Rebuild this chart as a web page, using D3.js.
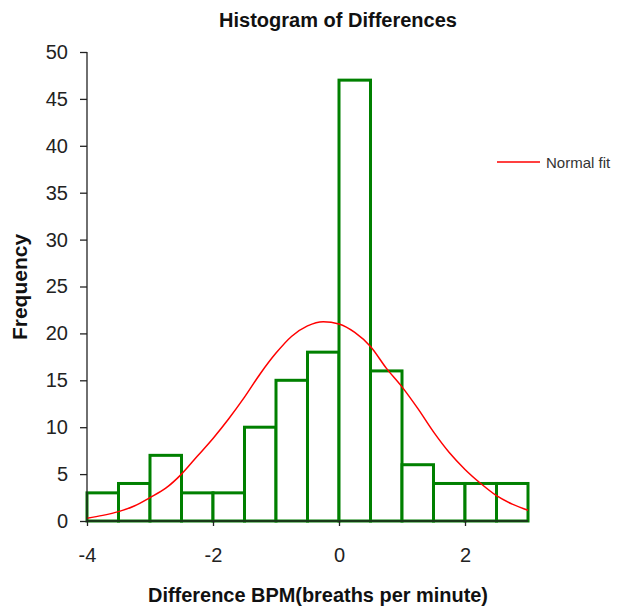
<!DOCTYPE html>
<html>
<head>
<meta charset="utf-8">
<script src="https://cdn.jsdelivr.net/npm/d3@7"></script>
<style>
  body { margin: 0; background: #fff; }
  text { font-family: "Liberation Sans Narrow", "Arial Narrow", "Liberation Sans", Arial, sans-serif; }
</style>
</head>
<body>
<svg id="chart" width="618" height="607"></svg>
<script>
// Histogram bins (left edges, width 0.5) and frequencies
const binStarts = [-4, -3.5, -3, -2.5, -2, -1.5, -1, -0.5, 0, 0.5, 1, 1.5, 2, 2.5];
const binWidth = 0.5;
const frequencies = [3, 4, 7, 3, 3, 10, 15, 18, 47, 16, 6, 4, 4, 4];

// Normal fit curve points
const fitX = [-4, -3.75, -3.5, -3.25, -3, -2.75, -2.5, -2.25, -2, -1.75, -1.5, -1.25, -1, -0.75, -0.5, -0.25, 0, 0.25, 0.5, 0.75, 1, 1.25, 1.5, 1.75, 2, 2.25, 2.5, 2.75, 3];
const fitY = [0.3, 0.6, 1.0, 1.6, 2.5, 3.5, 5.0, 6.9, 8.8, 10.9, 13.2, 15.7, 17.9, 19.7, 20.8, 21.25, 21.0, 20.1, 18.6, 16.3, 14.3, 12.0, 9.5, 7.3, 5.5, 4.0, 2.7, 1.8, 1.15];

const xTicks = [-4, -2, 0, 2];
const yTicks = [0, 5, 10, 15, 20, 25, 30, 35, 40, 45, 50];

const svg = d3.select("#chart");
const x = d3.scaleLinear().domain([-4, 3]).range([87, 528]);
const y = d3.scaleLinear().domain([0, 50]).range([521, 52]);

// Bars
svg.append("g").selectAll("rect")
  .data(binStarts.map((s, i) => ({ s, f: frequencies[i] })))
  .join("rect")
  .attr("x", d => x(d.s))
  .attr("y", d => y(d.f))
  .attr("width", d => x(d.s + binWidth) - x(d.s))
  .attr("height", d => y(0) - y(d.f))
  .attr("fill", "#fff")
  .attr("stroke", "#008000")
  .attr("stroke-width", 3);

// Normal fit curve
const line = d3.line().x(d => x(d[0])).y(d => y(d[1])).curve(d3.curveMonotoneX);
svg.append("path")
  .datum(fitX.map((v, i) => [v, fitY[i]]))
  .attr("d", line)
  .attr("fill", "none")
  .attr("stroke", "#ff0000")
  .attr("stroke-width", 1.5);

// Axes
const yAxis = svg.append("g").attr("transform", `translate(${x(-4)},0)`)
  .call(d3.axisLeft(y).tickValues(yTicks).tickSize(7).tickPadding(12));
const xAxis = svg.append("g").attr("transform", `translate(0,${y(0)})`)
  .call(d3.axisBottom(x).tickValues(xTicks).tickSize(5).tickFormat(d3.format("d")).tickPadding(22));
[yAxis, xAxis].forEach(g => {
  g.select(".domain").attr("stroke", "#222").attr("stroke-width", 1.3);
  g.selectAll(".tick line").attr("stroke", "#222").attr("stroke-width", 1.3);
  g.selectAll(".tick text").attr("font-size", 20).attr("fill", "#222")
    .style("font-family", '"Liberation Sans Narrow", "Arial Narrow", "Liberation Sans", sans-serif');
});
xAxis.select(".domain").attr("d", `M${x(-4)},0H${x(3)}`);
yAxis.select(".domain").attr("d", `M0,${y(50)}V${y(0)}`);
xAxis.selectAll(".tick text").text(d => d < 0 ? "-" + Math.abs(d) : d);

// Title
svg.append("text").attr("x", 338).attr("y", 27).attr("text-anchor", "middle")
  .attr("font-size", 20).attr("font-weight", "bold").attr("fill", "#111")
  .attr("textLength", 238).attr("lengthAdjust", "spacingAndGlyphs")
  .text("Histogram of Differences");

// X axis title
svg.append("text").attr("x", 318).attr("y", 602).attr("text-anchor", "middle")
  .attr("font-size", 21).attr("font-weight", "bold").attr("fill", "#111")
  .attr("textLength", 340).attr("lengthAdjust", "spacingAndGlyphs")
  .text("Difference BPM(breaths per minute)");

// Y axis title
svg.append("text").attr("transform", "translate(27,287) rotate(-90)").attr("text-anchor", "middle")
  .attr("font-size", 21).attr("font-weight", "bold").attr("fill", "#111")
  .text("Frequency");

// Legend
svg.append("line").attr("x1", 497).attr("x2", 540).attr("y1", 162).attr("y2", 162)
  .attr("stroke", "#ff0000").attr("stroke-width", 1.5);
svg.append("text").attr("x", 546).attr("y", 168).attr("font-size", 15).attr("fill", "#333")
  .text("Normal fit");
</script>
</body>
</html>
